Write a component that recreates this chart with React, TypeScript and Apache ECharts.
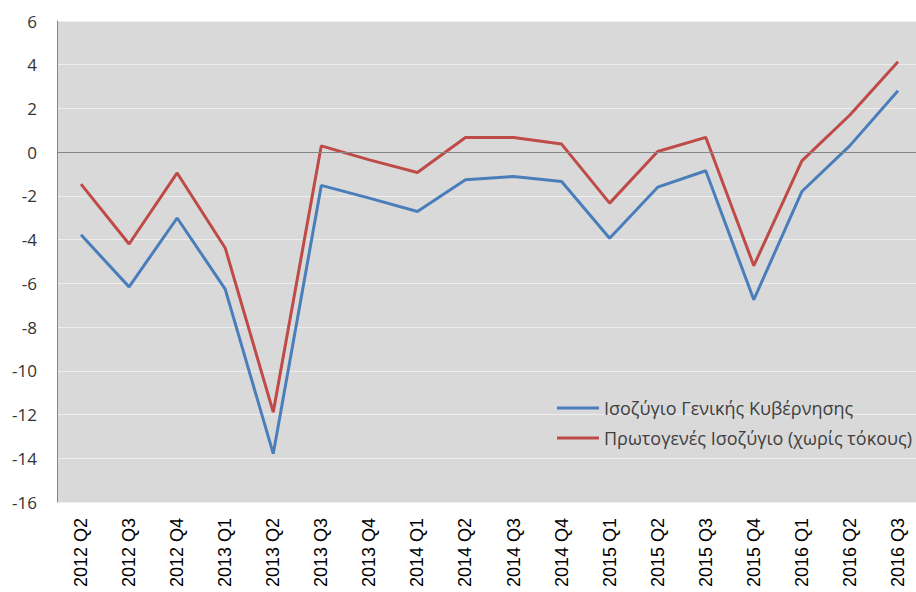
import React, { useEffect, useRef } from "react";
import * as echarts from "echarts";

const categories = [
  "2012 Q2", "2012 Q3", "2012 Q4", "2013 Q1", "2013 Q2", "2013 Q3", "2013 Q4",
  "2014 Q1", "2014 Q2", "2014 Q3", "2014 Q4", "2015 Q1", "2015 Q2", "2015 Q3",
  "2015 Q4", "2016 Q1", "2016 Q2", "2016 Q3",
];
const generalBalance = [
  -3.78, -6.16, -3.01, -6.26, -13.79, -1.52, -2.1, -2.71, -1.26, -1.11,
  -1.34, -3.94, -1.6, -0.85, -6.75, -1.8, 0.3, 2.81,
];
const primaryBalance = [
  -1.46, -4.2, -0.95, -4.38, -11.89, 0.29, -0.35, -0.93, 0.67, 0.67,
  0.37, -2.33, 0.03, 0.68, -5.19, -0.4, 1.7, 4.14,
];
const seriesNames = [
  "Ισοζύγιο Γενικής Κυβέρνησης",
  "Πρωτογενές Ισοζύγιο (χωρίς τόκους)",
];

export default function App() {
  const ref = useRef<HTMLDivElement>(null);
  useEffect(() => {
    if (!ref.current) return;
    const chart = echarts.init(ref.current, null, { renderer: "svg" });
    chart.setOption({
      animation: false,
      backgroundColor: "#ffffff",
      grid: {
        left: 57,
        width: 865,
        top: 21,
        bottom: 90,
        outerBoundsMode: "none",
        containLabel: false,
        show: true,
        backgroundColor: "#d9d9d9",
        borderWidth: 0,
      },
      legend: {
        orient: "vertical",
        left: 552,
        top: 391,
        icon: "rect",
        itemWidth: 42,
        itemHeight: 3,
        itemGap: 6,
        textStyle: {
          fontFamily: "Open Sans",
          fontSize: 18,
          lineHeight: 24,
          color: "#404040",
        },
        data: seriesNames,
      },
      xAxis: {
        type: "category",
        data: categories,
        boundaryGap: true,
        axisLine: { show: false, onZero: false },
        axisTick: { show: false },
        axisLabel: {
          rotate: 90,
          margin: 16,
          interval: 0,
          fontFamily: "Liberation Sans",
          fontSize: 18,
          color: "#000000",
        },
        splitLine: { show: false },
      },
      yAxis: {
        type: "value",
        min: -16,
        max: 6,
        interval: 2,
        axisLine: { show: true, lineStyle: { color: "#868686", width: 1 } },
        axisTick: { show: false },
        axisLabel: {
          margin: 20,
          fontFamily: "Open Sans",
          fontSize: 17,
          color: "#333333",
        },
        splitLine: { show: true, lineStyle: { color: "#eeeeee", width: 1 } },
      },
      series: [
        {
          name: seriesNames[0],
          type: "line",
          data: generalBalance,
          symbol: "none",
          lineStyle: { color: "#4a7ebb", width: 3 },
          itemStyle: { color: "#4a7ebb" },
          markLine: {
            silent: true,
            symbol: "none",
            label: { show: false },
            lineStyle: { color: "#868686", width: 1, type: "solid" },
            data: [{ yAxis: 0 }],
          },
        },
        {
          name: seriesNames[1],
          type: "line",
          data: primaryBalance,
          symbol: "none",
          lineStyle: { color: "#be4b48", width: 3 },
          itemStyle: { color: "#be4b48" },
        },
      ],
    });
    return () => chart.dispose();
  }, []);
  return (
    <div
      ref={ref}
      style={{ position: "fixed", left: 0, top: 0, width: 916, height: 592 }}
    />
  );
}
